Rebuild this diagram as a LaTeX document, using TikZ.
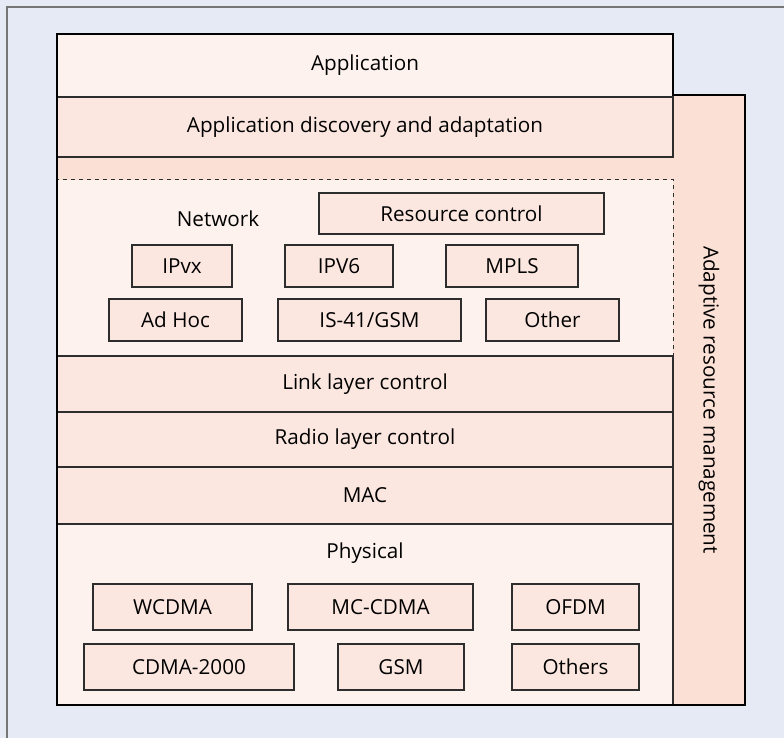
\documentclass[tikz,border=0pt]{standalone}
\usepackage{fontspec}
\setmainfont{Open Sans}
\definecolor{bgblue}{RGB}{230,234,245}
\definecolor{palea}{RGB}{253,242,237}
\definecolor{paleb}{RGB}{252,231,224}
\definecolor{palec}{RGB}{251,224,213}
\definecolor{framegray}{RGB}{118,118,118}
\definecolor{edge}{RGB}{45,45,45}
\tikzset{
  layer/.style={draw=edge, line width=0.8pt, minimum width=462pt, inner sep=0pt, font=\fontsize{15.5}{18}\selectfont},
  blk/.style={draw=edge, fill=paleb, line width=0.8pt, inner sep=0pt, minimum height=31.5pt, font=\fontsize{15.5}{18}\selectfont},
  lbl/.style={inner sep=0pt, font=\fontsize{15.5}{18}\selectfont}
}
\begin{document}
\begin{tikzpicture}[x=0.75pt, y=-0.75pt]
\useasboundingbox (0,0) rectangle (784,738);
\fill[bgblue] (0,0) rectangle (784,738);
\draw[framegray, line width=1.6pt] (7,738) -- (7,7) -- (784,7);
\coordinate (TL) at (57,34);   % top left of the stack
\coordinate (TR) at (673,34);  % top right of application
\coordinate (RT) at (745,95);  % top right of side column
\coordinate (BR) at (745,705); % bottom right
\coordinate (BL) at (57,705);  % bottom left
% side column and gap
\fill[palec] (TL) rectangle (673,705);
\node[fill=palec, minimum width=54pt, minimum height=457.5pt, inner sep=0pt] (arm) at (709,400) {};
\node[lbl, rotate=-90] (armtext) at (arm.center) {Adaptive resource management};
% layers
\node[layer, fill=palea, minimum height=47.25pt] (app) at (365,65.5) {Application};
\node[layer, fill=paleb, minimum height=45pt] (disc) at (365,127) {Application discovery and adaptation};
\node[layer, fill=palea, draw=none, minimum height=132pt] (net) at (365,268) {};
\draw[edge, dashed, line width=0.8pt] (net.south west) -- (net.north west) -- (net.north east) -- (net.south east);
\node[layer, fill=paleb, minimum height=42pt] (link) at (365,384) {Link layer control};
\node[layer, fill=paleb, minimum height=41.25pt] (radio) at (365,439.5) {Radio layer control};
\node[layer, fill=paleb, minimum height=42.75pt] (mac) at (365,495.5) {MAC};
\node[layer, fill=palea, minimum height=135.75pt] (phys) at (365,614.5) {};
% network blocks
\node[lbl] (nettext) at (218,219) {Network};
\node[blk, minimum width=213.75pt, minimum height=30.75pt] (rc) at (461.5,213.5) {Resource control};
\node[blk, minimum width=75pt] (ipvx) at (182,266) {IPvx};
\node[blk, minimum width=81pt] (ipv6) at (339,266) {IPV6};
\node[blk, minimum width=99pt] (mpls) at (512,266) {MPLS};
\node[blk, minimum width=99.75pt] (adhoc) at (175.5,320) {Ad Hoc};
\node[blk, minimum width=137.25pt] (is41) at (369.5,320) {IS-41/GSM};
\node[blk, minimum width=99.75pt] (other) at (552.5,320) {Other};
% physical blocks
\node[lbl] (phystext) at (365,553) {Physical};
\node[blk, minimum width=119.25pt, minimum height=34.5pt] (wcdma) at (172.5,607) {WCDMA};
\node[blk, minimum width=138.75pt, minimum height=34.5pt] (mccdma) at (380.5,607) {MC-CDMA};
\node[blk, minimum width=95.25pt, minimum height=34.5pt] (ofdm) at (575.5,607) {OFDM};
\node[blk, minimum width=157.5pt, minimum height=34.5pt] (cdma) at (189,667) {CDMA-2000};
\node[blk, minimum width=94.5pt, minimum height=34.5pt] (gsm) at (401,667) {GSM};
\node[blk, minimum width=95.25pt, minimum height=34.5pt] (others) at (575.5,667) {Others};
% thick outline
\draw[black, line width=2.2pt, line join=miter] (BL) -- (TL) -- (TR) -- (673,95) -- (RT) -- (BR) -- cycle;
\end{tikzpicture}
\end{document}
